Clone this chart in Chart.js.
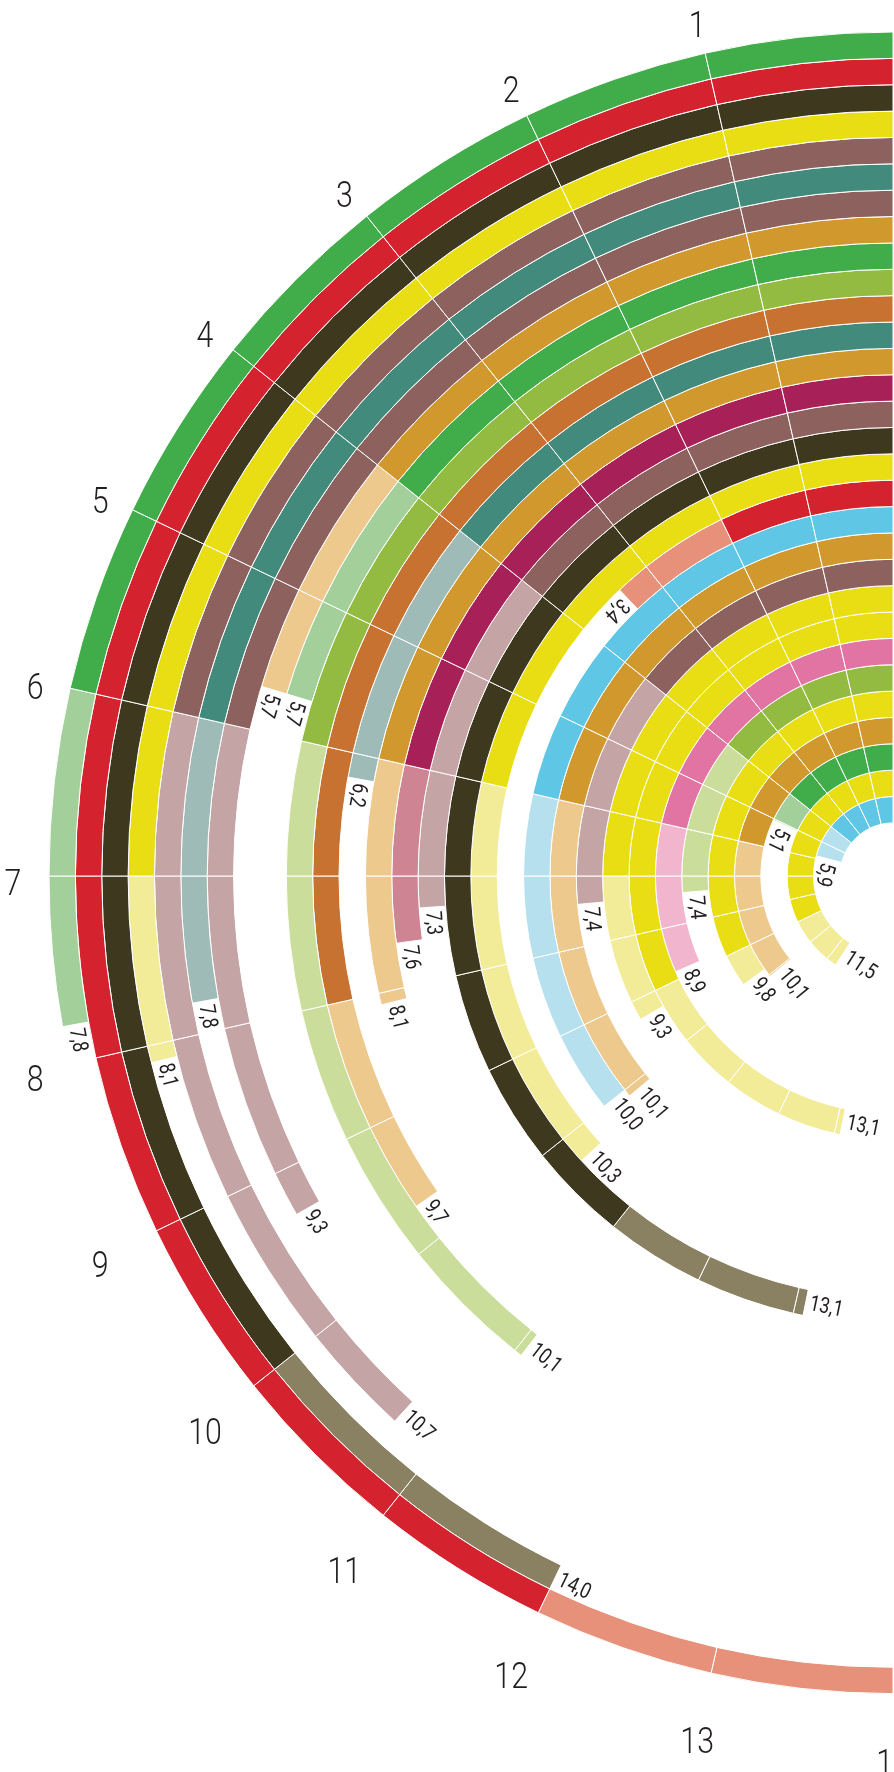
<!DOCTYPE html>
<html lang="en">
<head>
<meta charset="UTF-8">
<title>Rings</title>
<script src="https://cdn.jsdelivr.net/npm/chart.js"></script>
<style>
  html, body { margin: 0; padding: 0; background: #fff; overflow: hidden; }
  body { width: 894px; height: 1772px; position: relative; }
  #rings { position: absolute; left: 0; top: 0; }
</style>
</head>
<body>
<canvas id="rings" width="1788" height="1772"></canvas>
<script>
// one entry per ring, outermost ring first
const ringKeys  = ['G','R','D','Y','M','T','M','O','G','YG','OR','T','O','MG','M','D','Y','R','B','O','M','Y','Y','P','YG','Y','O','G','Y','B'];
// unit from which the ring switches to its pale shade
const lightFrom = [6,12,10,7,6,6,6,4,4,6,8,4,6,6,4,11,6,2,6,6,4,7,9,6,4,9,6,4,9,4];
// where each ring stops (units, 14 = half turn)
const ringEnds  = [7.8,14.0,12.0,8.1,10.7,7.8,9.3,5.7,5.7,11.06,9.7,6.2,8.1,7.6,7.3,13.1,10.3,3.4,10.0,10.1,7.4,9.3,13.1,8.85,7.35,9.8,10.05,5.05,11.45,5.85];
// printed value next to the end of each ring
const ringLabels = ['7,8','','14,0','8,1','10,7','7,8','9,3','5,7','5,7','10,1','9,7','6,2','8,1','7,6','7,3','13,1','10,3','3,4','10,0','10,1','7,4','9,3','13,1','8,9','7,4','9,8','10,1','5,1','11,5','5,9'];
const unitTicks = [1,2,3,4,5,6,7,8,9,10,11,12,13,14];
const fullTurn = 28;

const palette = {
  G:  ['#41ad4a', '#a3d09a'],
  R:  ['#d4232e', '#e8917a'],
  D:  ['#3e391e', '#8a8062'],
  Y:  ['#e9dd14', '#f2ec98'],
  M:  ['#8c615e', '#c4a4a4'],
  T:  ['#428a7b', '#9ebbb8'],
  O:  ['#d0982d', '#eec98e'],
  YG: ['#93bb42', '#cbdd9a'],
  OR: ['#c87231', '#eec98e'],
  MG: ['#a82058', '#cf8494'],
  B:  ['#60c6e6', '#b6e0ee'],
  P:  ['#e274a4', '#f1b5cd']
};

// chart.js runs clockwise, so the empty part goes first and the units are reversed
const datasets = ringKeys.map((key, i) => {
  const end = ringEnds[i];
  const data = [fullTurn - end];
  const colors = ['rgba(0,0,0,0)'];
  const borders = [0];
  for (let k = Math.ceil(end) - 1; k >= 0; k--) {
    data.push(Math.min(1, end - k));
    colors.push(palette[key][k < lightFrom[i] ? 0 : 1]);
    borders.push(1);
  }
  return { data: data, backgroundColor: colors, borderWidth: borders, borderColor: '#fff', hoverOffset: 0 };
});

const ringText = {
  id: 'ringText',
  afterDatasetsDraw(chart) {
    const ctx = chart.ctx;
    ctx.save();
    ctx.fillStyle = '#231f20';
    ctx.textBaseline = 'middle';

    // values at the ring ends
    ringLabels.forEach((txt, i) => {
      if (!txt) return;
      const gap = chart.getDatasetMeta(i).data[0];
      const a = gap.endAngle;
      const r = (gap.innerRadius + gap.outerRadius) / 2;
      ctx.save();
      ctx.translate(gap.x + r * Math.cos(a), gap.y + r * Math.sin(a));
      ctx.rotate(a - Math.PI / 2);
      ctx.scale(0.82, 1);
      ctx.font = '22px Roboto';
      ctx.textAlign = 'left';
      ctx.fillText(txt, 5, 1);
      ctx.restore();
    });

    // unit numbers round the outside
    const ref = chart.getDatasetMeta(0).data[0];
    unitTicks.forEach(u => {
      const a = -Math.PI / 2 - u * 2 * Math.PI / fullTurn;
      const r = 880;
      ctx.save();
      ctx.translate(ref.x + r * Math.cos(a), ref.y + 10 + r * Math.sin(a));
      ctx.scale(0.82, 1);
      ctx.font = '300 37px Roboto';
      ctx.textAlign = 'center';
      ctx.fillText(String(u), 0, 0);
      ctx.restore();
    });
    ctx.restore();
  }
};

new Chart(document.getElementById('rings'), {
  type: 'doughnut',
  data: { datasets: datasets },
  options: {
    responsive: false,
    animation: false,
    events: [],
    radius: 844,
    cutout: 53,
    rotation: 0,
    circumference: 360,
    layout: { padding: { left: 49, right: 51, top: 32, bottom: 52 } },
    plugins: { legend: { display: false }, tooltip: { enabled: false } }
  },
  plugins: [ringText]
});
</script>
</body>
</html>
